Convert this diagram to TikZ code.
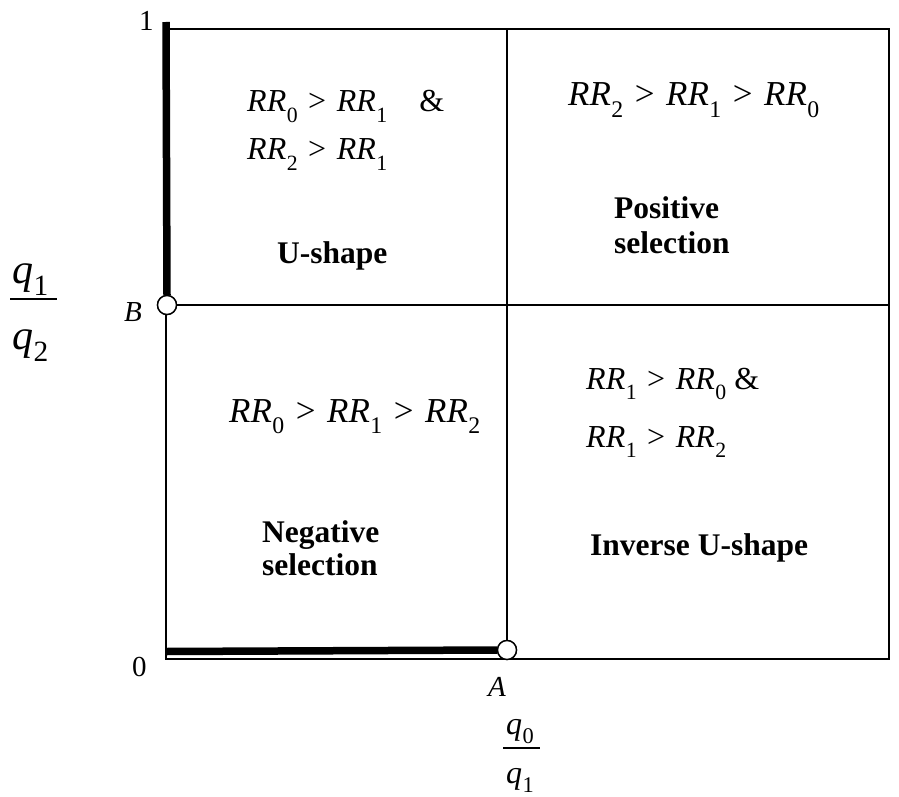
\documentclass[tikz,border=0pt]{standalone}
\usepackage{fontspec}
\setmainfont{Liberation Serif}

\newcommand{\RRs}[1]{\textit{RR}\kern0.5pt\raisebox{-0.32em}{\scalebox{0.68}{#1}}}
\newcommand{\gtsep}{\hspace{0.33em}>\hspace{0.33em}}
\newcommand{\qsub}[1]{\textit{q}\kern0.5pt\raisebox{-0.3em}{\scalebox{0.7}{#1}}}

\tikzset{
  gridline/.style={line width=1.5pt},
  edgeline/.style={line width=7.5pt},
  endpt/.style={circle,draw,fill=white,line width=1.4pt,minimum size=19pt,inner sep=0pt},
  bigrel/.style={inner sep=0pt,anchor=base west,font=\fontsize{35}{40}\selectfont},
  smallrel/.style={inner sep=0pt,anchor=base west,font=\fontsize{32}{36}\selectfont},
  region/.style={inner sep=0pt,anchor=base west,font=\fontsize{31.5}{36}\selectfont\bfseries},
  axislab/.style={inner sep=0pt,anchor=base west,font=\fontsize{29}{32}\selectfont},
}

\begin{document}
\begin{tikzpicture}[x=1pt,y=-1pt]
    \useasboundingbox[fill=white] (0,0) rectangle (899,797);

    % the square and its two dividing lines
    \draw[gridline] (166,29) rectangle (889,659);
    \draw[gridline] (507,29) -- (507,659);
    \draw[gridline] (166,305) -- (889,305);

    % end points
    \node[endpt] (ptB) at (167,305) {};
    \node[endpt] (ptA) at (507,650) {};
    \draw[edgeline] (166,22) -- (ptB.north);
    \draw[edgeline] (166,651.5) -- (ptA.west);
    \node[endpt] at (ptB) {};
    \node[endpt] at (ptA) {};

    % axis labels
    \node[axislab] (one-top) at (139,31) {1};
    \node[axislab] (zero) at (132,676) {0};
    \node[axislab] (one-right) at (897,697) {1};
    \node[axislab] (labB) at (124,321) {\textit{B}};
    \node[axislab] (labA) at (488,696) {\textit{A}};

    % q1/q2 on the left, q0/q1 below
    \node[inner sep=0pt,anchor=base west,font=\fontsize{42}{44}\selectfont] (qL-num) at (12,283) {\qsub{1}};
    \node[inner sep=0pt,anchor=base west,font=\fontsize{42}{44}\selectfont] (qL-den) at (12,349) {\qsub{2}};
    \draw[line width=1.6pt] (10,299) -- (57,299);
    \node[inner sep=0pt,anchor=base west,font=\fontsize{32}{36}\selectfont] (qB-num) at (506,734) {\qsub{0}};
    \node[inner sep=0pt,anchor=base west,font=\fontsize{32}{36}\selectfont] (qB-den) at (506,783) {\qsub{1}};
    \draw[line width=1.4pt] (503,748) -- (540,748);

    % upper left: U-shape
    \node[smallrel] (ul-a) at (247,112) {\RRs{0}\gtsep\RRs{1}\hspace{1em}\&};
    \node[smallrel] (ul-b) at (247,160) {\RRs{2}\gtsep\RRs{1}};
    \node[region] (ushape) at (277,263) {U-shape};

    % upper right: positive selection
    \node[bigrel] (ur-a) at (568,106) {\RRs{2}\gtsep\RRs{1}\gtsep\RRs{0}};
    \node[region] (pos-a) at (614,218) {Positive};
    \node[region] (pos-b) at (614,253) {selection};

    % lower left: negative selection
    \node[bigrel] (ll-a) at (229,422) {\RRs{0}\gtsep\RRs{1}\gtsep\RRs{2}};
    \node[region] (neg-a) at (262,542) {Negative};
    \node[region] (neg-b) at (262,575) {selection};

    % lower right: inverse U-shape
    \node[smallrel] (lr-a) at (586,389) {\RRs{1}\gtsep\RRs{0} \&};
    \node[smallrel] (lr-b) at (586,447) {\RRs{1}\gtsep\RRs{2}};
    \node[region] (invu) at (590,555) {Inverse U-shape};
\end{tikzpicture}
\end{document}
